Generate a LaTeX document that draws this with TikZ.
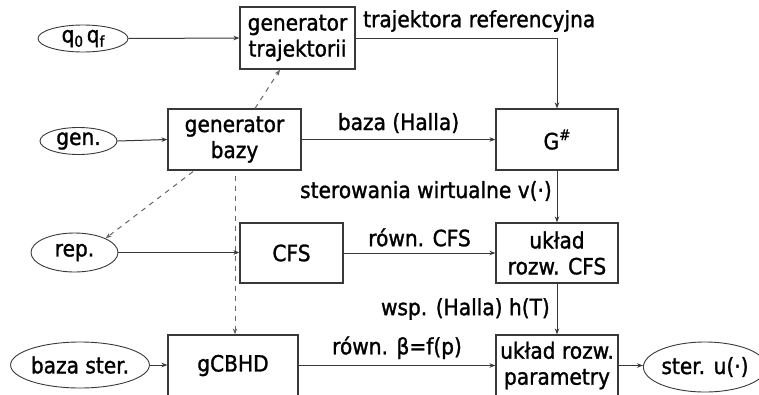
\documentclass[tikz,border=0pt]{standalone}
\usepackage{fontspec}
\setmainfont{DejaVu Sans}[FakeStretch=0.9,FakeBold=1.3]
\usetikzlibrary{arrows.meta,shapes.geometric,calc}
\definecolor{ln}{HTML}{383838}
\begin{document}
\begin{tikzpicture}[x=1pt,y=-1pt,
  every node/.style={font=\fontsize{22.4}{26}\selectfont, text=black, inner sep=0pt},
  blk/.style={draw=ln, line width=1.2pt, rectangle, align=center},
  oval/.style={draw=ln, line width=0.9pt, ellipse},
  con/.style={draw=ln, line width=1pt, -{Stealth[length=6pt,width=4.5pt]}},
  dsh/.style={draw=black!60, line width=1pt, dash pattern=on 5pt off 5pt, -{Stealth[length=6pt,width=4.5pt]}},
  lbl/.style={font=\fontsize{22.4}{26}\selectfont}]
\useasboundingbox (0,0) rectangle (759,394);
% nodes
\node[oval, minimum width=90pt, minimum height=27pt] (qq) at (83,38.5) {q\raisebox{-0.35ex}{\fontsize{15}{15}\selectfont 0}\,q\raisebox{-0.35ex}{\fontsize{15}{15}\selectfont f}};
\node[blk, minimum width=115pt, minimum height=62pt] (gt) at (297.5,38) {generator\\trajektorii};
\node[oval, minimum width=77pt, minimum height=27pt] (gen) at (78.5,141) {gen.};
\node[blk, minimum width=133pt, minimum height=61pt] (gb) at (234.5,139.5) {generator\\bazy};
\node[blk, minimum width=122pt, minimum height=61pt] (G) at (557,139.5) {G\raisebox{0.75ex}{\fontsize{15}{15}\selectfont\#}};
\node[oval, minimum width=87pt, minimum height=39pt] (rep) at (74.5,252.5) {rep.};
\node[blk, minimum width=103pt, minimum height=60pt] (cfs) at (291.5,253) {CFS};
\node[blk, minimum width=122pt, minimum height=60pt] (u1) at (557,253) {układ\\rozw. CFS};
\node[oval, minimum width=136pt, minimum height=46pt] (bs) at (80,365) {baza ster.};
\node[blk, minimum width=130pt, minimum height=61pt] (gc) at (233,365.5) {gCBHD};
\node[blk, minimum width=122pt, minimum height=61pt] (u2) at (557,365.5) {układ rozw.\\parametry};
\node[oval, minimum width=110pt, minimum height=50pt] (st) at (705,367) {ster. u(·)};
% connectors
\draw[con] (qq.east) -- (gt.west);
\draw[con] (gt.east) -- (gt.east -| G.north) -- (G.north);
\node[lbl, anchor=west] (l1) at (363,21) {trajektora referencyjna};
\draw[con] (gen.east) -- (gb.west);
\draw[con] (gb.east) -- node[lbl, above=6pt] (l2) {baza (Halla)} (G.west);
\draw[con] (G.south) -- (u1.north);
\node[lbl, anchor=east] (l3) at (552,191) {sterowania wirtualne v(·)};
\draw[con] (rep.east) -- (rep.east -| cfs.west);
\draw[con] (cfs.east) -- node[lbl, above=6pt] (l4) {równ. CFS} (u1.west);
\draw[con] (u1.south) -- (u2.north);
\node[lbl, anchor=east] (l5) at (550,309) {wsp. (Halla) h(T)};
\draw[con] (bs.east) -- (bs.east -| gc.west);
\draw[con] (gc.east) -- node[lbl, above=6pt] (l6) {równ. β=f(p)} (u2.west);
\draw[con] (u2.east) -- (u2.east -| st.west);
% dashed
\coordinate (d1s) at ($(gb.north)+(20.5,0)$);
\draw[dsh] (d1s) -- ($(gt.south)+(-17.5,0)$);
\coordinate (d2s) at ($(gb.south)+(-41.5,1)$);
\draw[dsh] (d2s) -- (rep.north east);
\coordinate (d3s) at ($(gb.south)+(0.5,5)$);
\draw[dsh] (d3s) -- (d3s |- gc.north);
\end{tikzpicture}
\end{document}
